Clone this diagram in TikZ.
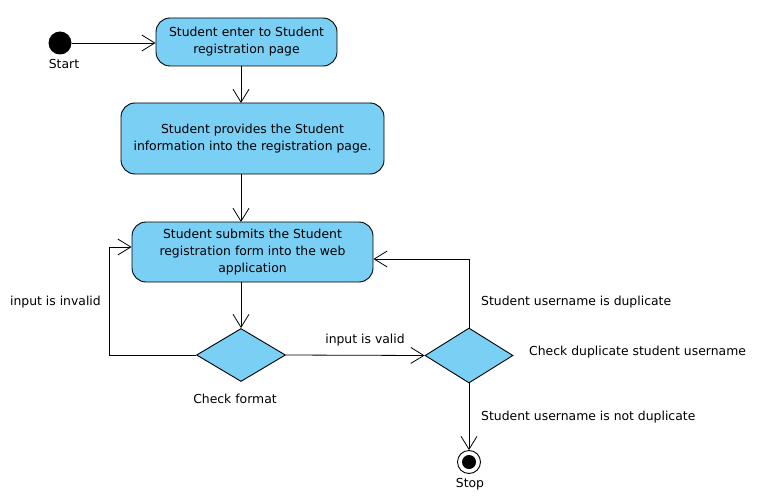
\documentclass[tikz,border=0pt]{standalone}
\usepackage{fontspec}
\setmainfont{DejaVu Sans}
\usetikzlibrary{shapes.geometric,arrows.meta}
\definecolor{actblue}{RGB}{122,207,245}
\tikzset{
  act/.style={draw=black, fill=actblue, rounded corners=14pt, line width=0.9pt, align=center, font=\fontsize{12.4}{17}\selectfont, inner sep=0pt},
  dec/.style={draw=black, fill=actblue, diamond, line width=0.9pt, inner sep=0pt, minimum width=89pt, minimum height=53pt},
  lbl/.style={font=\fontsize{12.4}{17}\selectfont, inner sep=0pt},
  flow/.style={line width=0.8pt, -{Straight Barb[length=13pt,width=16pt,line width=0.8pt]}}
}
\begin{document}
\begin{tikzpicture}[x=1pt,y=-1pt]
\useasboundingbox (0,0) rectangle (759,500);
% start
\node[circle, fill=black, minimum size=23pt, inner sep=0pt] (start) at (60,43) {};
\node[lbl] (startlbl) at (64,64) {Start};
% activities
\node[act, minimum width=181pt, minimum height=48pt] (a1) at (246.5,42) {Student enter to Student\\registration page};
\node[act, minimum width=263pt, minimum height=71pt] (a2) at (252.5,138.5) {Student provides the Student\\information into the registration page.};
\node[act, minimum width=241pt, minimum height=60pt] (a3) at (252.5,252) {Student submits the Student\\registration form into the web\\application};
% decisions
\node[dec] (d1) at (241,355) {};
\node[lbl] (d1lbl) at (235,399) {Check format};
\node[dec, minimum width=88pt, minimum height=55pt] (d2) at (469,355.5) {};
\node[lbl, anchor=west] (d2lbl) at (529,352) {Check duplicate student username};
% stop
\node[circle, draw=black, line width=0.9pt, fill=white, minimum size=23pt, inner sep=0pt] (stop) at (469,462) {};
\node[circle, fill=black, minimum size=14pt, inner sep=0pt] (stopin) at (stop) {};
\node[lbl] (stoplbl) at (470,484) {Stop};
% coordinates
\coordinate (c1) at (109,355);
\coordinate (c2) at (109,247);
\coordinate (c3) at (469,259);
% flows
\draw[flow] (start.east) -- (a1.west |- start);
\draw[flow] (241,66) -- (241,103);
\draw[flow] (241,174) -- (241,222);
\draw[flow] (241,282) -- (d1.north);
\draw[flow] (d1.west) -- (c1) -- (c2) -- (a3.west |- c2);
\draw[flow] (d1.east) -- (d2.west);
\draw[flow] (d2.north) -- (c3) -- (a3.east |- c3);
\draw[flow] (d2.south) -- (stop.north);
% labels
\node[lbl, anchor=east] (l1) at (101,302) {input is invalid};
\node[lbl] (l2) at (365,340) {input is valid};
\node[lbl, anchor=west] (l3) at (481,302) {Student username is duplicate};
\node[lbl, anchor=west] (l4) at (481,417) {Student username is not duplicate};
\end{tikzpicture}
\end{document}
